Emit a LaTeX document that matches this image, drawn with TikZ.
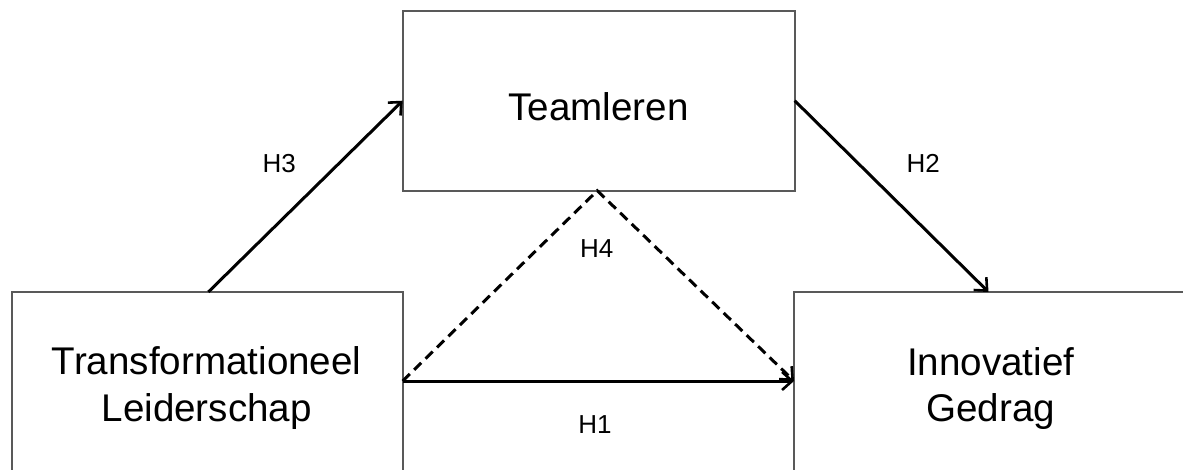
\documentclass[tikz,border=0pt]{standalone}
\usepackage{fontspec}
\setmainfont{Liberation Sans}
\usetikzlibrary{arrows.meta,calc}
\begin{document}
\begin{tikzpicture}[x=0.5pt,y=-0.5pt,
  box/.style={draw=black!65,line width=1pt,rectangle,inner sep=0pt,outer sep=0pt},
  main/.style={font=\fontsize{19.3}{23.5}\selectfont,anchor=base,inner sep=0pt},
  hlab/.style={font=\fontsize{13}{15}\selectfont,inner sep=0pt},
  link/.style={line width=1.5pt,-{Straight Barb[length=5pt,width=9pt,line width=1.3pt]}},
  dlink/.style={link,dash pattern=on 5pt off 3pt}]
\useasboundingbox (0,0) rectangle (1183,470);
\clip (0,0) rectangle (1183,470);
% boxes
\node[box,minimum width=196pt,minimum height=90pt] (team) at (598.7,100.7) {};
\node[box,minimum width=195.35pt,minimum height=100pt] (tl) at (207.35,392) {};
\node[box,minimum width=197pt,minimum height=100pt] (ib) at (991,392) {};
% texts
\node[main] (tteam) at (598.5,120.7) {Teamleren};
\node[main] (ttl1) at (206.7,374) {Transformationeel};
\node[main] (ttl2) at (206.7,421.7) {Leiderschap};
\node[main] (tib1) at (990.8,375.7) {Innovatief};
\node[main] (tib2) at (990.8,421.7) {Gedrag};
% connection points
\coordinate (tlr) at ($(tl.north east)+(0,89)$);
\coordinate (ibl) at ($(ib.north west)+(0,89)$);
\coordinate (tlt) at ($(tl.north)+(1,0)$);
\coordinate (ibt) at ($(ib.north)+(-2.5,0)$);
\coordinate (teams) at ($(team.south)+(-1.4,0)$);
% connectors
\draw[link] (tlt) -- (team.west);
\draw[link] (team.east) -- (ibt);
\draw[link] (tlr) -- (ibl);
\draw[dlink] (tlr) -- (teams) -- (ibl);
% labels
\node[hlab] (h3) at (279.3,163.3) {H3};
\node[hlab] (h2) at (923.3,163.3) {H2};
\node[hlab] (h4) at (596.7,248.3) {H4};
\node[hlab] (h1) at (595,425) {H1};
\end{tikzpicture}
\end{document}
